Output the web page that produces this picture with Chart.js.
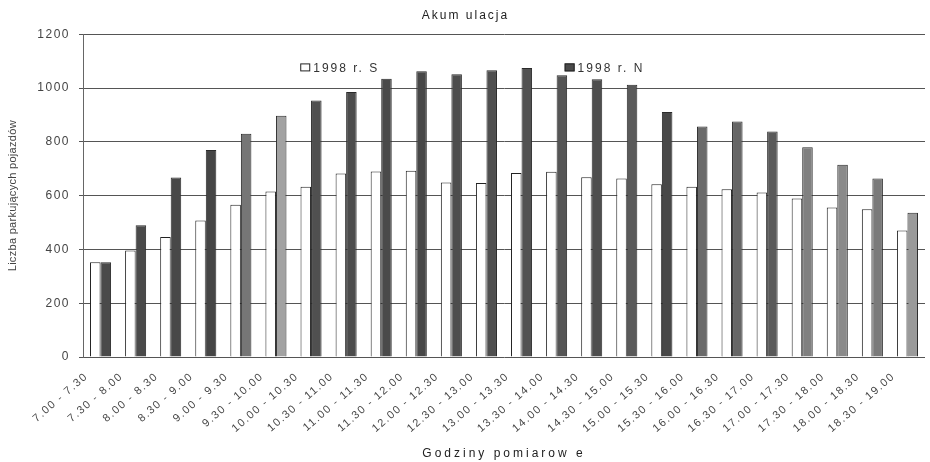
<!DOCTYPE html>
<html>
<head>
<meta charset="utf-8">
<script src="https://cdn.jsdelivr.net/npm/chart.js@4/dist/chart.umd.min.js"></script>
<style>
  html, body { margin: 0; padding: 0; background: #fff; }
</style>
</head>
<body>
<canvas id="myChart" width="930" height="462"></canvas>
<script>
// data
var hours = ["7.00 - 7.30", "7.30 - 8.00", "8.00 - 8.30", "8.30 - 9.00", "9.00 - 9.30", "9.30 - 10.00",
  "10.00 - 10.30", "10.30 - 11.00", "11.00 - 11.30", "11.30 - 12.00", "12.00 - 12.30", "12.30 - 13.00",
  "13.00 - 13.30", "13.30 - 14.00", "14.00 - 14.30", "14.30 - 15.00", "15.00 - 15.30", "15.30 - 16.00",
  "16.00 - 16.30", "16.30 - 17.00", "17.00 - 17.30", "17.30 - 18.00", "18.00 - 18.30", "18.30 - 19.00"];
var seriesS = [352, 396, 446, 508, 566, 616, 633, 683, 690, 693, 649, 647,
  684, 689, 669, 664, 643, 633, 624, 612, 590, 556, 550, 471];
var seriesN = [352, 490, 668, 770, 830, 897, 954, 986, 1035, 1063, 1052, 1067,
  1075, 1048, 1033, 1013, 911, 857, 876, 839, 780, 715, 664, 537];
var yTicks = [0, 200, 400, 600, 800, 1000, 1200];
var legendNames = ["1998 r. S", "1998 r. N"];

// the printed dark bars are not all the same shade
var darkShades = ["#4a4a4a", "#4a4a4a", "#484848", "#454545", "#767676", "#a2a2a2",
  "#505050", "#4c4c4c", "#4a4a4a", "#474747", "#4d4d4d", "#4f4f4f",
  "#525252", "#555555", "#4e4e4e", "#5a5a5a", "#484848", "#6a6a6a",
  "#666666", "#5a5a5a", "#808080", "#8a8a8a", "#7a7a7a", "#9a9a9a"];

var FONT = "'Liberation Sans', Arial, sans-serif";

// wrap a draw method so its text gets some letter spacing (printed original is spaced out)
function spaced(obj, name, px) {
  if (!obj || obj['_sp_' + name]) return;
  var orig = obj[name];
  obj[name] = function() {
    var c = this.ctx;
    c.save();
    c.letterSpacing = px;
    var r = orig.apply(this, arguments);
    c.restore();
    return r;
  };
  obj['_sp_' + name] = true;
}

var spacingPlugin = {
  id: 'spacing',
  beforeDraw: function(chart) {
    spaced(chart.titleBlock, 'draw', '2px');
    spaced(chart.scales.x, 'drawTitle', '3px');
    spaced(chart.scales.y, 'drawTitle', '0.3px');
    spaced(chart.scales.x, 'drawLabels', '1.5px');
    spaced(chart.scales.y, 'drawLabels', '1.5px');
  }
};

// legend sits inside the plot, between the 1000 and 1200 lines
var innerLegend = {
  id: 'innerLegend',
  afterDraw: function(chart) {
    var ctx = chart.ctx, a = chart.chartArea;
    var w = a.right - a.left;
    var spots = [0.258, 0.572];
    ctx.save();
    ctx.font = "12px " + FONT;
    ctx.letterSpacing = '2px';
    ctx.textBaseline = 'middle';
    ctx.textAlign = 'left';
    for (var i = 0; i < legendNames.length; i++) {
      var x = a.left + spots[i] * w;
      var y = a.top + 33;
      ctx.fillStyle = i == 0 ? '#ffffff' : '#4a4a4a';
      ctx.fillRect(x, y - 4, 10, 8);
      ctx.strokeStyle = '#222';
      ctx.lineWidth = 1;
      ctx.strokeRect(x + 0.5, y - 3.5, 9, 7);
      ctx.fillStyle = '#333';
      ctx.fillText(legendNames[i], x + 13, y + 1);
    }
    ctx.restore();
  }
};

const ctx = document.getElementById('myChart');

new Chart(ctx, {
  type: 'bar',
  data: {
    labels: hours,
    datasets: [{
      label: legendNames[0],
      data: seriesS,
      backgroundColor: '#ffffff',
      borderColor: '#222222',
      borderWidth: 1
    }, {
      label: legendNames[1],
      data: seriesN,
      backgroundColor: darkShades,
      borderColor: '#2a2a2a',
      borderWidth: 1
    }]
  },
  options: {
    responsive: false,
    animation: false,
    categoryPercentage: 0.6,
    barPercentage: 1.0,
    layout: { padding: { left: 6, right: 5, top: 0, bottom: 1 } },
    plugins: {
      legend: { display: false },
      tooltip: { enabled: false },
      title: {
        display: true,
        text: 'Akum ulacja',
        color: '#222',
        font: { family: FONT, size: 12, weight: 'normal' },
        padding: { top: 8, bottom: 12 }
      }
    },
    scales: {
      x: {
        grid: { display: false },
        border: { display: false },
        ticks: {
          color: '#444',
          font: { family: FONT, size: 11 },
          minRotation: 41,
          maxRotation: 41,
          autoSkip: false,
          padding: 5,
          labelOffset: -14
        },
        title: {
          display: true,
          text: 'Godziny pomiarow e',
          color: '#222',
          font: { family: FONT, size: 12 },
          padding: { top: 4, bottom: 0 }
        },
        afterFit: function(scale) { scale.height = 104; }
      },
      y: {
        min: 0,
        max: 1200,
        afterBuildTicks: function(scale) {
          scale.ticks = yTicks.map(function(v) { return { value: v }; });
        },
        grid: { color: '#555', lineWidth: 1, tickLength: 4 },
        border: { display: true, color: '#666' },
        ticks: {
          color: '#444',
          font: { family: FONT, size: 12 },
          padding: 9,
          callback: function(v) { return String(v); }
        },
        title: {
          display: true,
          text: 'Liczba parkujących pojazdów',
          color: '#444',
          font: { family: FONT, size: 11 },
          padding: { top: 0, bottom: 6 }
        },
        afterFit: function(scale) { scale.width = 77; }
      }
    }
  },
  plugins: [spacingPlugin, innerLegend]
});
</script>
</body>
</html>
